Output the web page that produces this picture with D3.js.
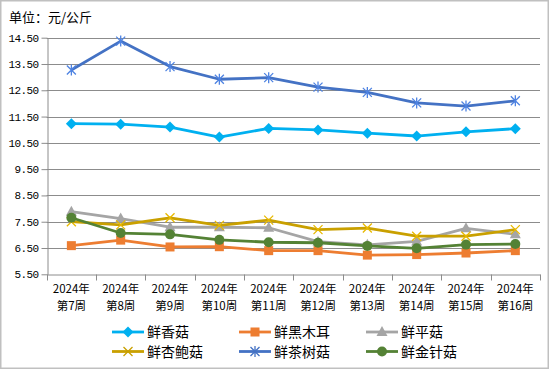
<!DOCTYPE html>
<html><head><meta charset="utf-8">
<script src="https://cdn.jsdelivr.net/npm/d3@7/dist/d3.min.js"></script>
<style>
body{margin:0;background:#fff;}
svg{display:block;}
</style></head>
<body>
<svg id="c" width="550" height="370"></svg>
<script>
const categories = ["第7周","第8周","第9周","第10周","第11周","第12周","第13周","第14周","第15周","第16周"];
const yearLabel = "2024年";
const yTicks = [5.5,6.5,7.5,8.5,9.5,10.5,11.5,12.5,13.5,14.5];
const seriesNames = ["鲜香菇","鲜黑木耳","鲜平菇","鲜杏鲍菇","鲜茶树菇","鲜金针菇"];
const xianggu   = [11.23,11.21,11.10,10.72,11.05,10.99,10.87,10.76,10.92,11.04];
const heimuer   = [6.59,6.80,6.54,6.55,6.40,6.40,6.23,6.25,6.31,6.40];
const pinggu    = [7.88,7.62,7.29,7.29,7.27,6.74,6.62,6.75,7.25,7.02];
const xingbaogu = [7.50,7.38,7.65,7.36,7.56,7.20,7.26,6.95,6.95,7.20];
const chashugu  = [13.27,14.37,13.40,12.92,12.98,12.62,12.42,12.02,11.90,12.10];
const jinzhengu = [7.65,7.07,7.02,6.81,6.72,6.70,6.58,6.49,6.63,6.65];

const seriesValues = [xianggu, heimuer, pinggu, xingbaogu, chashugu, jinzhengu];
const colors = ["#00b0f0","#ed7d31","#a5a5a5","#c9a000","#4472c4","#548235"];
const markers = ["diamond","square","triangle","x","star","circle"];

const svg = d3.select("#c");
// border
svg.append("rect").attr("x",0.75).attr("y",0.75).attr("width",547.5).attr("height",367.5)
  .attr("fill","#fff").attr("stroke","#c0c0c0").attr("stroke-width",1.5);

const L = 46.7, R = 540, T = 37.7, B = 274.3;
const x = d3.scaleBand().domain(categories).range([L, R]);
const y = d3.scaleLinear().domain([5.5, 14.5]).range([B, T]);

// title
svg.append("text").attr("x",9).attr("y",22).attr("font-family","'Noto Sans CJK SC'")
  .attr("font-size",13).attr("fill","#000").text("单位：元/公斤");

// grid
svg.append("g").selectAll("line").data(yTicks.slice(1)).join("line")
  .attr("x1",L).attr("x2",R).attr("y1",d=>Math.round(y(d))+0.5).attr("y2",d=>Math.round(y(d))+0.5)
  .attr("stroke","#8c8c8c").attr("stroke-width",1);

// y axis
const yAxis = d3.axisLeft(y).tickValues(yTicks).tickFormat(d3.format(".2f")).tickSizeInner(6).tickSizeOuter(0).tickPadding(3);
const gy = svg.append("g").attr("transform",`translate(${Math.round(L)+0.5},0)`).call(yAxis);
gy.selectAll("path,line").attr("stroke","#8c8c8c");
gy.selectAll("text").attr("font-family","'Liberation Mono'").attr("font-size",11)
  .attr("letter-spacing","-0.6px").attr("fill","#000");

// x axis
const xAxis = d3.axisBottom(x).tickSizeInner(0).tickSizeOuter(0).tickFormat("");
const gx = svg.append("g").attr("transform",`translate(0,${Math.round(B)+0.5})`).call(xAxis);
gx.selectAll("path").attr("stroke","#8c8c8c");
// boundary ticks
const bounds = categories.map(c=>x(c)).concat([R]);
gx.selectAll("line.b").data(bounds).join("line").attr("class","b")
  .attr("x1",d=>Math.round(d)+0.5).attr("x2",d=>Math.round(d)+0.5).attr("y1",0).attr("y2",6)
  .attr("stroke","#8c8c8c");
const xl = svg.append("g").attr("font-family","'Noto Sans CJK SC'").attr("font-size",11.5)
  .attr("text-anchor","middle").attr("fill","#000");
categories.forEach(c=>{
  const cx = x(c)+x.bandwidth()/2;
  xl.append("text").attr("x",cx).attr("y",292.5).text(yearLabel);
  xl.append("text").attr("x",cx).attr("y",309.5).text(c);
});

function drawMarker(g, type, cx, cy, color, s){
  s = s||1;
  if(type==="diamond"){
    g.append("path").attr("d",`M${cx},${cy-5.5*s}L${cx+5.5*s},${cy}L${cx},${cy+5.5*s}L${cx-5.5*s},${cy}Z`).attr("fill",color);
  } else if(type==="square"){
    g.append("rect").attr("x",cx-4.5*s).attr("y",cy-4.5*s).attr("width",9*s).attr("height",9*s).attr("fill",color);
  } else if(type==="triangle"){
    g.append("path").attr("d",`M${cx},${cy-6*s}L${cx+5.5*s},${cy+4*s}L${cx-5.5*s},${cy+4*s}Z`).attr("fill",color);
  } else if(type==="x"){
    const r=4.5*s;
    g.append("path").attr("d",`M${cx-r},${cy-r}L${cx+r},${cy+r}M${cx-r},${cy+r}L${cx+r},${cy-r}`)
      .attr("stroke",color).attr("stroke-width",1.3).attr("fill","none");
  } else if(type==="star"){
    const r=4.5*s;
    g.append("path").attr("d",`M${cx-r},${cy-r}L${cx+r},${cy+r}M${cx-r},${cy+r}L${cx+r},${cy-r}M${cx},${cy-r-1}L${cx},${cy+r+1}`)
      .attr("stroke",color).attr("stroke-width",1.3).attr("fill","none");
  } else if(type==="circle"){
    g.append("circle").attr("cx",cx).attr("cy",cy).attr("r",5*s).attr("fill",color);
  }
}

const line = d3.line().x((d,i)=>x(categories[i])+x.bandwidth()/2).y(d=>y(d));
const plot = svg.append("g");
seriesValues.forEach((vals,k)=>{
  const g = plot.append("g");
  g.append("path").attr("d",line(vals)).attr("fill","none").attr("stroke",colors[k])
    .attr("stroke-width",2.8).attr("stroke-linejoin","round");
  vals.forEach((v,i)=>drawMarker(g, markers[k], x(categories[i])+x.bandwidth()/2, y(v),
    markers[k]==="x"||markers[k]==="star" ? d3.color(colors[k]).brighter(0.4) : colors[k]));
});

// legend
const legPos = [[112,332],[239,332],[366,332],[112,351.5],[239,351.5],[366,351.5]];
const lg = svg.append("g");
seriesNames.forEach((n,k)=>{
  const [lx,ly] = legPos[k];
  lg.append("line").attr("x1",lx).attr("x2",lx+32).attr("y1",ly).attr("y2",ly)
    .attr("stroke",colors[k]).attr("stroke-width",2.8);
  drawMarker(lg, markers[k], lx+16, ly, colors[k]);
  lg.append("text").attr("x",lx+35).attr("y",ly+5).attr("font-family","'Noto Sans CJK SC'")
    .attr("font-size",14).attr("fill","#000").text(n);
});
</script>
</body></html>
